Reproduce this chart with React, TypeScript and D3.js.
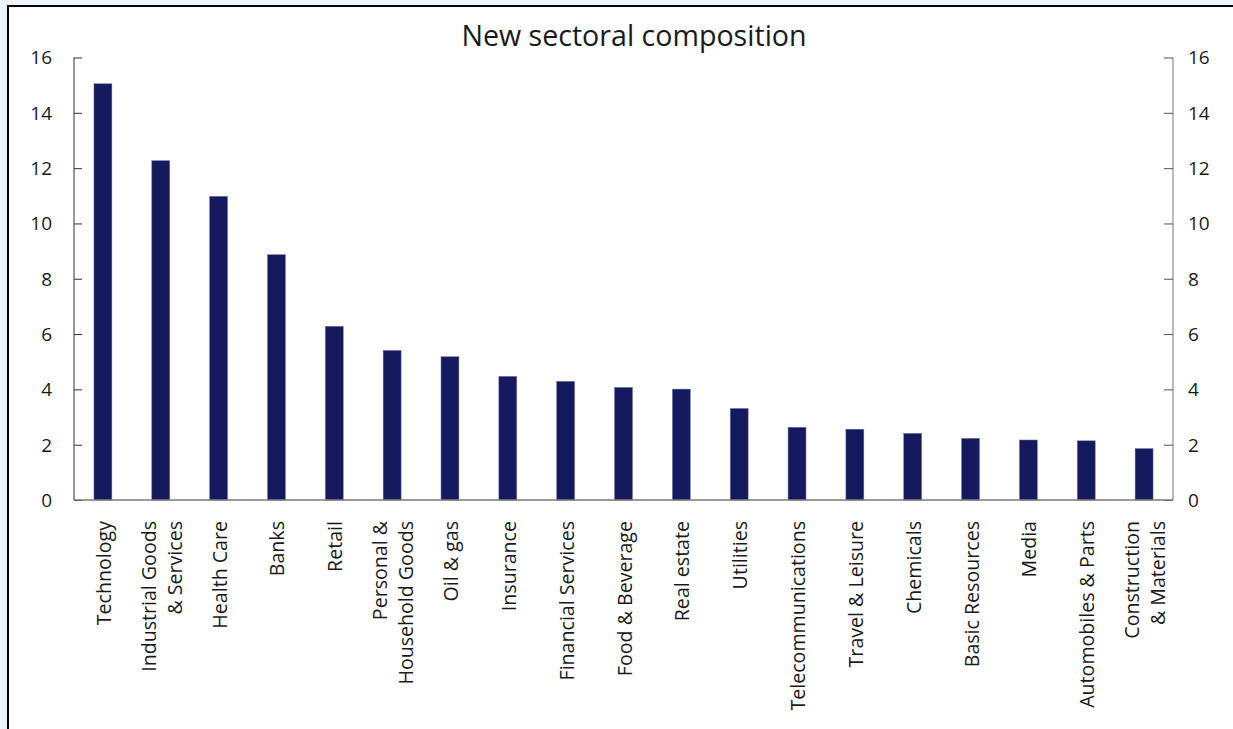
import React, { useEffect, useRef } from 'react';
import * as d3 from 'd3';

// Sector labels (multi-line labels split with \n)
const SECTORS = [
  'Technology',
  'Industrial Goods\n& Services',
  'Health Care',
  'Banks',
  'Retail',
  'Personal &\nHousehold Goods',
  'Oil & gas',
  'Insurance',
  'Financial Services',
  'Food & Beverage',
  'Real estate',
  'Utilities',
  'Telecommunications',
  'Travel & Leisure',
  'Chemicals',
  'Basic Resources',
  'Media',
  'Automobiles & Parts',
  'Construction\n& Materials'
];

// Weight per sector, percent
const WEIGHTS = [
  15.05, 12.27, 10.98, 8.87, 6.28, 5.41, 5.18, 4.47, 4.29, 4.07,
  4.01, 3.31, 2.63, 2.56, 2.41, 2.23, 2.17, 2.14, 1.86
];

const Y_TICKS = [0, 2, 4, 6, 8, 10, 12, 14, 16];
const TITLE = 'New sectoral composition';

const W = 1233;
const H = 729;
const FONT = '"Open Sans", "Noto Sans", sans-serif';

const drawChart = (svgEl: SVGSVGElement) => {
  const svg = d3.select(svgEl);
  svg.selectAll('*').remove();

  const left = 74;
  const right = 1173;
  const top = 57.5;
  const bottom = 500;

  // background + frame
  svg.append('rect').attr('width', W).attr('height', H).attr('fill', '#eef3fb');
  svg.append('rect')
    .attr('x', 8).attr('y', 6)
    .attr('width', W + 20).attr('height', H + 20)
    .attr('fill', '#fff')
    .attr('stroke', '#000')
    .attr('stroke-width', 2);

  const x = d3.scaleBand<string>()
    .domain(SECTORS)
    .range([left, right])
    .paddingInner(0.69)
    .paddingOuter(0.345);

  const y = d3.scaleLinear().domain([0, 16]).range([bottom, top]);

  // bars
  svg.append('g')
    .selectAll('rect')
    .data(SECTORS)
    .enter().append('rect')
    .attr('x', d => x(d) as number)
    .attr('width', x.bandwidth())
    .attr('y', (d, i) => y(WEIGHTS[i]))
    .attr('height', (d, i) => bottom - y(WEIGHTS[i]))
    .attr('fill', '#151a5f')
    .attr('stroke', '#6f74a8')
    .attr('stroke-width', 0.5);

  // left axis (ticks inward)
  const leftAxis = d3.axisRight(y).tickValues(Y_TICKS).tickSize(8).tickFormat(() => '');
  const gl = svg.append('g').attr('transform', `translate(${left},0)`).call(leftAxis);
  gl.select('.domain').attr('stroke', '#333').attr('d', `M0,${top}V${bottom}`);
  gl.selectAll('.tick line').attr('stroke', '#333');

  // right axis (ticks inward)
  const rightAxis = d3.axisLeft(y).tickValues(Y_TICKS).tickSize(9).tickFormat(() => '');
  const gr = svg.append('g').attr('transform', `translate(${right},0)`).call(rightAxis);
  gr.select('.domain').attr('stroke', '#777').attr('d', `M0,${top}V${bottom}`);
  gr.selectAll('.tick line').attr('stroke', '#555');

  // baseline
  svg.append('line')
    .attr('x1', left).attr('x2', right)
    .attr('y1', y(0)).attr('y2', y(0))
    .attr('stroke', '#7a7a7a')
    .attr('stroke-width', 1.5);

  // tick labels
  const labels = svg.append('g')
    .attr('font-family', FONT)
    .attr('font-size', 19)
    .attr('fill', '#1a1a1a');
  labels.selectAll('text.l')
    .data(Y_TICKS)
    .enter().append('text')
    .attr('class', 'l')
    .attr('x', 52)
    .attr('y', d => y(d))
    .attr('dy', '0.36em')
    .attr('text-anchor', 'end')
    .text(d => d);
  labels.selectAll('text.r')
    .data(Y_TICKS)
    .enter().append('text')
    .attr('class', 'r')
    .attr('x', 1188)
    .attr('y', d => y(d))
    .attr('dy', '0.36em')
    .attr('text-anchor', 'start')
    .text(d => d);

  // category labels, rotated
  const cat = svg.append('g')
    .attr('font-family', FONT)
    .attr('font-size', 19.6)
    .attr('fill', '#1a1a1a')
    .selectAll('g')
    .data(SECTORS)
    .enter().append('g')
    .attr('transform', d => `translate(${(x(d) as number) + x.bandwidth() / 2},521) rotate(-90)`);

  cat.each(function (d) {
    const lines = d.split('\n');
    const n = lines.length;
    const t = d3.select(this).append('text').attr('text-anchor', 'end');
    lines.forEach((ln, i) => {
      t.append('tspan')
        .attr('x', 0)
        .attr('y', 8 + (i - (n - 1) / 2) * 26)
        .text(ln);
    });
  });

  // title
  svg.append('text')
    .attr('x', 634)
    .attr('y', 46)
    .attr('text-anchor', 'middle')
    .attr('font-family', FONT)
    .attr('font-size', 28.6)
    .attr('fill', '#1a1a1a')
    .text(TITLE);
};

export default function App() {
  const ref = useRef<SVGSVGElement>(null);

  useEffect(() => {
    document.body.style.margin = '0';
    if (ref.current) drawChart(ref.current);
  }, []);

  return <svg ref={ref} width={W} height={H} style={{ display: 'block' }} />;
}
